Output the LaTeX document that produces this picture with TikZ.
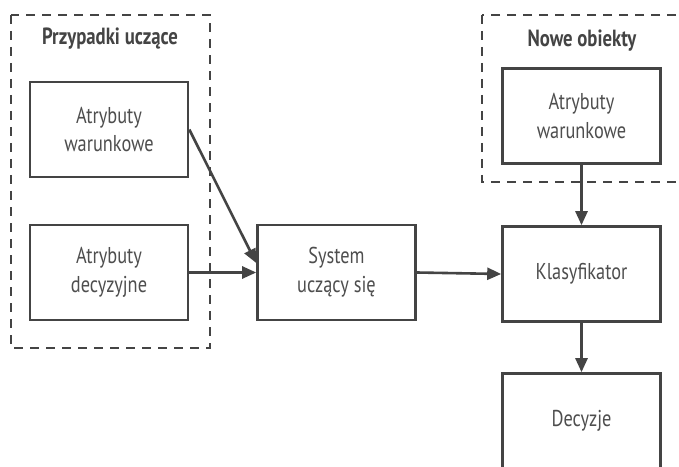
\documentclass[tikz,border=0pt]{standalone}
\usepackage{fontspec}
\setmainfont{PT Sans}[FakeStretch=0.8]
\usetikzlibrary{arrows.meta}
\definecolor{ink}{HTML}{444444}
\definecolor{txt}{HTML}{4E4E4E}
\tikzset{
  blk/.style={draw=ink, line width=2.6bp, minimum width=158bp, minimum height=95bp,
    align=center, text=txt, font=\fontsize{23}{29}\selectfont, inner sep=0pt},
  group/.style={draw=ink, line width=2.5bp, dash pattern=on 9bp off 7bp},
  grouptitle/.style={text=ink, font=\bfseries\fontsize{23.5}{26}\selectfont},
  flow/.style={draw=ink, line width=2.6bp, -{Triangle[length=14bp,width=12bp]}}
}
\begin{document}
\begin{tikzpicture}[x=1bp,y=-1bp]
  \useasboundingbox (0,0) rectangle (679,467);
  \clip (0,0) rectangle (679,467);
  \fill[white] (0,0) rectangle (679,467);
  % training-case group and the new-object group
  \draw[group] (11,15) rectangle (210,348);
  \draw[group] (482,15) rectangle (700,182);
  \node[grouptitle] (t1) at (110,39) {Przypadki uczące};
  \node[grouptitle] (t2) at (582,41) {Nowe obiekty};
  % blocks
  \node[blk] (aw1) at (109,129.5) {Atrybuty\\warunkowe};
  \node[blk] (ad)  at (109,272.5) {Atrybuty\\decyzyjne};
  \node[blk] (sys) at (336.5,272.5) {System\\uczący się};
  \node[blk] (aw2) at (581.5,116) {Atrybuty\\warunkowe};
  \node[blk] (kl)  at (581.5,274) {Klasyfikator};
  \node[blk] (dec) at (581.5,421) {Decyzje};
  % connectors
  \draw[flow] (aw1.east) -- ([yshift=9.5bp]sys.west);
  \draw[flow] (ad.east) -- (sys.west);
  \draw[flow] (sys.east) -- (kl.west);
  \draw[flow] (aw2.south) -- (kl.north);
  \draw[flow] (kl.south) -- (dec.north);
\end{tikzpicture}
\end{document}
